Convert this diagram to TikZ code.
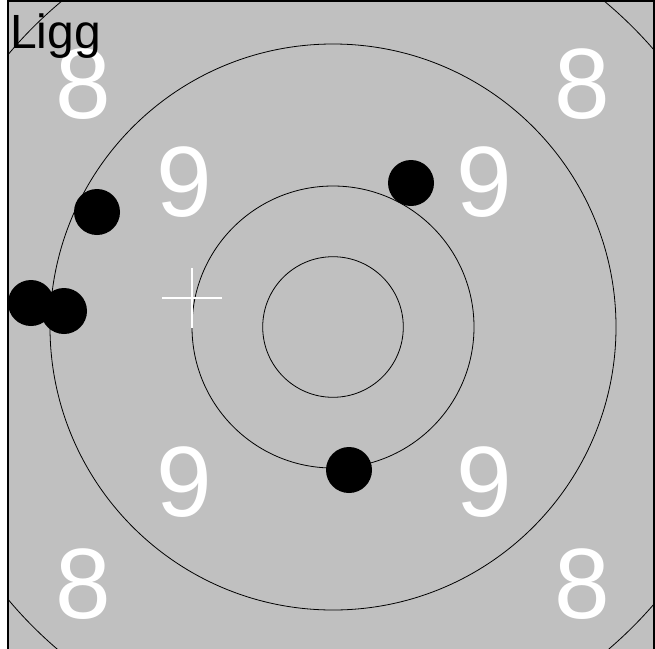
\documentclass[tikz,border=0pt]{standalone}
\usepackage{fontspec}
\setmainfont{Liberation Sans}
\definecolor{targetgray}{HTML}{C0C0C0}
\begin{document}
\begin{tikzpicture}[x=1pt,y=-1pt,
  ring/.style={draw=black,line width=0.8pt},
  shot/.style={fill=black},
  ringnum/.style={text=white,font=\fontsize{100}{100}\selectfont,inner sep=0pt},
  cross/.style={draw=white,line width=1.5pt},
]
\useasboundingbox (0,0) rectangle (655,648);
\fill[white] (0,0) rectangle (655,648);
\begin{scope}
\clip (8,1) rectangle (654,660);
\fill[targetgray] (8,1) rectangle (654,660);
\coordinate (c) at (333,327);
\draw[ring] (c) circle[radius=424];
\draw[ring] (c) circle[radius=283];
\draw[ring] (c) circle[radius=141];
\draw[ring] (c) circle[radius=70.3];
\node[ringnum] (n8a) at (83,84) {8};
\node[ringnum] (n8b) at (582,84) {8};
\node[ringnum] (n8c) at (83,584) {8};
\node[ringnum] (n8d) at (582,584) {8};
\node[ringnum] (n9a) at (184,182) {9};
\node[ringnum] (n9b) at (484,182) {9};
\node[ringnum] (n9c) at (184,482) {9};
\node[ringnum] (n9d) at (484,482) {9};
\draw[cross] (162,298) -- (222,298);
\draw[cross] (192,268) -- (192,328);
\fill[shot] (97,212) circle[radius=23];
\fill[shot] (31,303) circle[radius=23];
\fill[shot] (64,311) circle[radius=23];
\fill[shot] (411,183) circle[radius=23];
\fill[shot] (349,470) circle[radius=23];
\end{scope}
\draw[line width=1.5pt] (8,660) -- (8,1) -- (654,1) -- (654,660);
\node[anchor=base west,inner sep=0pt,font=\fontsize{48}{48}\selectfont] (title) at (10,48) {Ligg};
\end{tikzpicture}
\end{document}
